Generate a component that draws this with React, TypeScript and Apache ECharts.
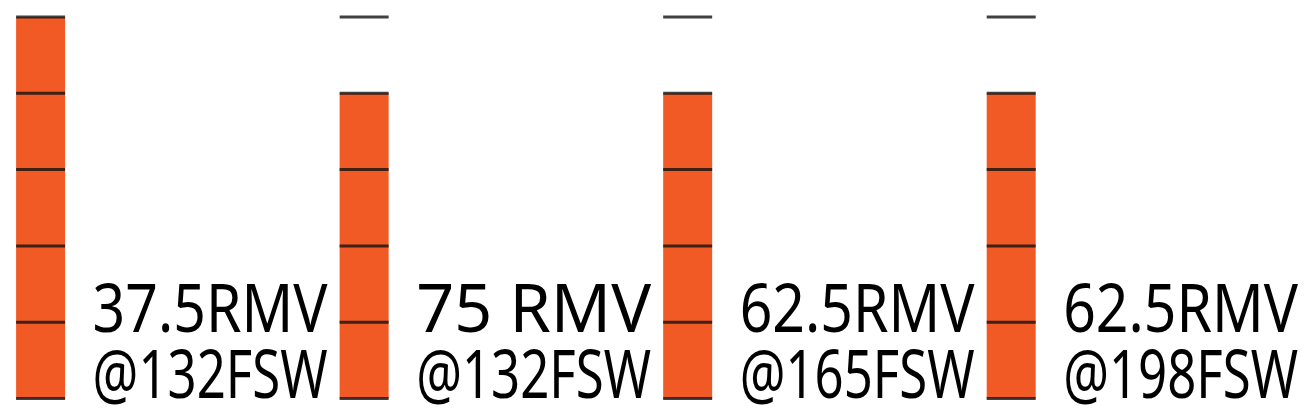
import React, { useEffect, useRef } from "react";
import * as echarts from "echarts";

const rmvLabels = ["37.5RMV", "75 RMV", "62.5RMV", "62.5RMV"];
const depthLabels = ["@132FSW", "@132FSW", "@165FSW", "@198FSW"];
const barValues = [5, 4, 4, 4];
const scaleLevels = [0, 1, 2, 3, 4, 5];
const scaleMax = 5;

const ORANGE = "#F15A24";
const FONT_FAMILY = "'Noto Sans', 'Open Sans', sans-serif";
const FONT_SIZE = 68;
const LINE_GAP = 66;
const TEXT_BOX_WIDTH = 235;
const TEXT_OFFSET_X = 52;

let measureCtx: CanvasRenderingContext2D | null = null;
function measure(text: string): number {
  if (!measureCtx) measureCtx = document.createElement("canvas").getContext("2d");
  if (!measureCtx) return TEXT_BOX_WIDTH;
  measureCtx.font = `normal ${FONT_SIZE}px ${FONT_FAMILY}`;
  return measureCtx.measureText(text).width;
}

export default function App() {
  const ref = useRef<HTMLDivElement>(null);
  useEffect(() => {
    if (!ref.current) return;
    const chart = echarts.init(ref.current, undefined, { renderer: "svg" });
    const categories = rmvLabels.map((r, i) => `${r} ${depthLabels[i]}`);
    const segData: number[][] = [];
    categories.forEach((_, i) => scaleLevels.forEach((lv) => segData.push([i, lv])));

    const lineText = (text: string, x: number, baseline: number) => {
      const w = measure(text);
      const sx = w > 0 ? TEXT_BOX_WIDTH / w : 1;
      return {
        type: "text",
        x,
        y: baseline - FONT_SIZE * 0.388,
        scaleX: sx,
        style: {
          text,
          x: 0,
          y: 0,
          fill: "#000000",
          fontFamily: FONT_FAMILY,
          fontSize: FONT_SIZE,
          fontWeight: "normal",
          align: "left",
          verticalAlign: "middle",
        },
      };
    };

    chart.setOption({
      animation: false,
      backgroundColor: "#ffffff",
      grid: { left: 40.6, right: 298.8, top: 17, bottom: 11.5 },
      xAxis: {
        type: "category",
        data: categories,
        boundaryGap: false,
        show: false,
      },
      yAxis: { type: "value", min: 0, max: scaleMax, show: false },
      series: [
        {
          type: "bar",
          data: barValues,
          barWidth: 49,
          itemStyle: { color: ORANGE },
          silent: true,
          z: 1,
        },
        {
          type: "scatter",
          data: segData,
          symbol: "rect",
          symbolSize: [49, 3],
          itemStyle: { color: "#111111" },
          silent: true,
          z: 3,
        },
        {
          type: "custom",
          data: categories.map((_, i) => [i, 0]),
          silent: true,
          z: 4,
          renderItem: (params: any, api: any) => {
            const i = params.dataIndex;
            const pt = api.coord([api.value(0), api.value(1)]);
            const x = pt[0] + TEXT_OFFSET_X;
            const base2 = pt[1] - 0.5;
            const base1 = base2 - LINE_GAP;
            return {
              type: "group",
              children: [
                lineText(rmvLabels[i], x, base1),
                lineText(depthLabels[i], x, base2),
              ],
            };
          },
        },
      ],
    });
    return () => chart.dispose();
  }, []);
  return (
    <div
      ref={ref}
      style={{ position: "fixed", left: 0, top: 0, width: 1310, height: 410, background: "#fff" }}
    />
  );
}
